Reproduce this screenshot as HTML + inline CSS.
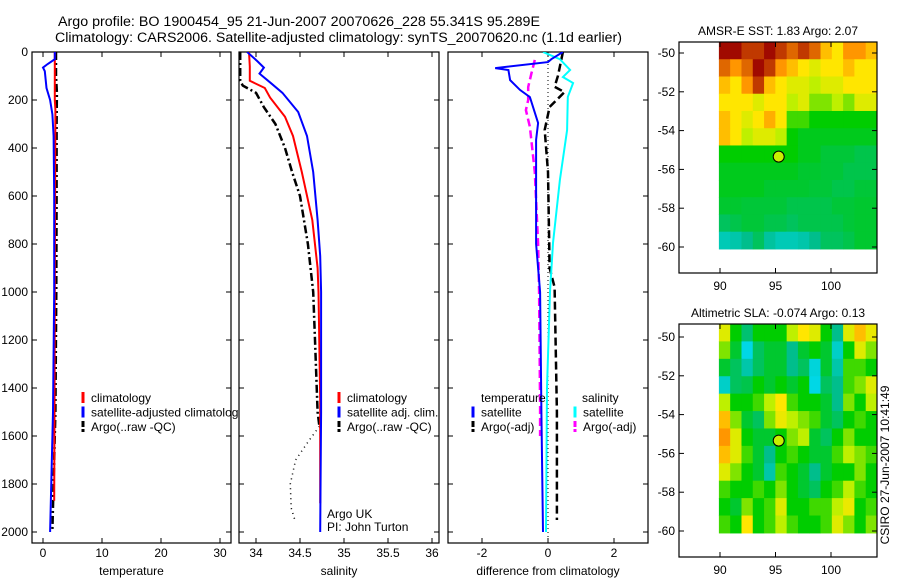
<!DOCTYPE html>
<html><head><meta charset="utf-8"><style>
body{margin:0;background:#fff}
svg{display:block;font-family:"Liberation Sans",sans-serif}
</style></head><body>
<svg id="c" width="900" height="580" viewBox="0 0 900 580" xmlns="http://www.w3.org/2000/svg">
<defs>
<clipPath id="cp1"><rect x="32" y="52" width="199" height="491"/></clipPath>
<clipPath id="cp1t"><rect x="32" y="52" width="207" height="491"/></clipPath>
<clipPath id="cp2"><rect x="239" y="52" width="200" height="491"/></clipPath>
<clipPath id="cp3"><rect x="448" y="52" width="200" height="491"/></clipPath>
</defs>
<g id="root"></g>
</svg>
<script>
// ---- profile data ----
const tDepthBlue=[0,30,50,65,80,150,200,260,350,600,1000,1500,2000];
const tBlue=[2.0,2.0,0.8,0.0,0.3,0.6,1.2,1.6,1.8,1.9,1.9,1.7,1.2];
const tDepthRed=[0,50,200,240,600,1000,1500,1870];
const tRed=[2.0,2.0,2.0,2.1,2.05,2.0,1.95,1.9];
const tDepthArgo=[0,100,170,300,600,1000,1500,1990];
const tArgo=[2.2,2.2,2.35,2.3,2.3,2.25,2.1,1.6];

const sDepthBlue=[0,40,65,90,130,170,250,350,500,700,850,1000,1500,2000];
const sBlue=[33.9,34.02,34.09,34.04,34.17,34.3,34.48,34.58,34.65,34.7,34.73,34.74,34.74,34.73];
const sDepthRed=[0,60,120,150,190,270,350,500,700,900,1000,1450,1880];
const sRed=[33.92,33.93,33.93,34.1,34.16,34.33,34.42,34.52,34.64,34.7,34.71,34.73,34.73];
const sDepthArgo=[0,120,140,170,230,300,400,500,600,800,1000,1200,1500,1560];
const sArgo=[33.82,33.82,33.85,34.0,34.09,34.22,34.33,34.41,34.5,34.59,34.65,34.67,34.7,34.72];
const sDepthArgoDeep=[1560,1620,1700,1800,1900,1960];
const sArgoDeep=[34.72,34.6,34.45,34.39,34.4,34.45];

const dDepthTsat=[0,30,42,67,75,117,158,188,296,366,800,1000,1500,2000];
const dTsat=[0.45,0.1,0.0,-1.6,-1.2,-1.15,-0.85,-0.55,-0.3,-0.36,-0.36,-0.24,-0.2,-0.15];
const dDepthSsat=[0,30,75,104,129,187,325,533,796,1000,1400,2000];
const dSsat=[-0.15,0.36,0.67,0.45,0.76,0.6,0.58,0.36,0.15,0.06,-0.03,-0.06];
const dDepthTargo=[0,100,145,167,229,325,500,900,980,1500,1950];
const dTargo=[0.45,0.3,0.2,0.5,0.05,-0.1,0.0,0.05,0.2,0.27,0.27];
const dDepthSargo=[33,88,146,200,242,312,500,800,1000,1480,1600];
const dSargo=[-0.4,-0.5,-0.6,-0.6,-0.67,-0.55,-0.4,-0.3,-0.27,-0.24,-0.24];

const depthTicks=[0,200,400,600,800,1000,1200,1400,1600,1800,2000];
const tTicks=[0,10,20,30];
const sTicks=[34,34.5,35,35.5,36];
const dTicks=[-2,0,2];
const latTicks=[-50,-52,-54,-56,-58,-60];
const lonTicks=[90,95,100];

// ---- map grids (rows from -49.4 downward, cols from 90E) ----
const sstGrid=[
[1,1,.95,.95,1,.95,.9,.95,.9,.8,.75,.85,.85,.8],
[.9,.85,.9,1,.95,.85,.8,.75,.7,.75,.75,.8,.75,.75],
[.8,.75,.85,.95,.8,.75,.7,.7,.65,.7,.7,.75,.75,.75],
[.75,.75,.75,.7,.75,.75,.65,.7,.6,.6,.65,.6,.7,.7],
[.8,.75,.7,.75,.82,.75,.55,.55,.5,.5,.5,.5,.5,.5],
[.8,.75,.65,.7,.7,.65,.5,.47,.47,.47,.47,.47,.47,.47],
[.5,.5,.5,.5,.5,.5,.5,.47,.47,.44,.44,.44,.42,.42],
[.47,.47,.47,.47,.47,.47,.47,.45,.45,.44,.44,.42,.42,.42],
[.47,.47,.47,.47,.45,.45,.45,.45,.44,.44,.42,.42,.44,.44],
[.45,.45,.44,.44,.44,.44,.42,.42,.42,.42,.44,.44,.45,.45],
[.4,.42,.44,.44,.42,.42,.4,.42,.42,.42,.42,.44,.45,.45],
[.28,.3,.35,.4,.32,.28,.28,.3,.35,.4,.4,.42,.45,.45]];
const slaGrid=[
[.7,.5,.38,.5,.5,.5,.65,.75,.7,.5,.35,.7,.8,.72],
[.6,.45,.2,.4,.45,.45,.35,.45,.5,.45,.25,.5,.7,.6],
[.45,.4,.3,.4,.45,.45,.35,.4,.22,.45,.3,.55,.55,.5],
[.25,.4,.42,.5,.45,.5,.45,.5,.2,.4,.35,.55,.6,.7],
[.65,.5,.5,.55,.65,.75,.55,.5,.5,.45,.35,.6,.5,.65],
[.8,.6,.45,.4,.6,.72,.65,.6,.55,.45,.4,.5,.55,.5],
[.85,.7,.5,.45,.45,.5,.6,.65,.45,.4,.5,.6,.5,.5],
[.8,.7,.55,.45,.35,.5,.55,.5,.45,.45,.55,.65,.6,.55],
[.7,.6,.5,.45,.3,.55,.5,.45,.35,.45,.5,.5,.6,.5],
[.55,.5,.5,.55,.5,.6,.5,.45,.4,.5,.55,.65,.55,.5],
[.5,.45,.6,.5,.55,.7,.5,.5,.55,.55,.65,.72,.5,.55],
[.55,.5,.75,.5,.55,.65,.55,.5,.5,.55,.7,.6,.5,.6]];
const argoLon=95.289, argoLat=-55.341;

const NS="http://www.w3.org/2000/svg";
const root=document.getElementById('root');
function el(tag,attrs,parent){const e=document.createElementNS(NS,tag);for(const k in attrs)e.setAttribute(k,attrs[k]);(parent||root).appendChild(e);return e;}
function txt(x,y,s,anchor,size,parent){const t=el('text',{x:x,y:y,'text-anchor':anchor||'start','font-size':size||12,fill:'#000'},parent);t.textContent=s;return t;}

const yD=d=>52+d*0.24;
const xT=v=>43+v*5.9;
const xS=s=>256+(s-34)*88;
const xDf=v=>548+v*33;

function line(xs,ds,xf,color,w,dash,clip,name){
  const pts=xs.map((v,i)=>xf(v).toFixed(1)+','+yD(ds[i]).toFixed(1)).join(' ');
  const p=el('polyline',{points:pts,fill:'none',stroke:color,'stroke-width':w,'clip-path':'url(#'+clip+')'});
  if(dash)p.setAttribute('stroke-dasharray',dash);
  
  
}
function panel(x0,w,xTicks,xf,fmt,xlabel,name,leftLabels){
  const g=el('g',{});
  
  
  el('rect',{x:x0,y:52,width:w,height:491,fill:'#fff',stroke:'#000','stroke-width':1.2},g);
  depthTicks.forEach(d=>{
    const y=yD(d);
    el('line',{x1:x0,y1:y,x2:x0+5,y2:y,stroke:'#000'},g);
    el('line',{x1:x0+w-5,y1:y,x2:x0+w,y2:y,stroke:'#000'},g);
    if(leftLabels){const t=txt(28,y+4,String(d),'end',12,g);}
  });
  xTicks.forEach(v=>{
    const x=xf(v);
    el('line',{x1:x,y1:543,x2:x,y2:538,stroke:'#000'},g);
    el('line',{x1:x,y1:52,x2:x,y2:57,stroke:'#000'},g);
    const t=txt(x,557,fmt(v),'middle',12,g);
    
  });
  const xl=txt(x0+w/2,575,xlabel,'middle',12,g);
  
}

// titles
let t=txt(299,26,'Argo profile: BO 1900454_95 21-Jun-2007 20070626_228 55.341S 95.289E','middle',13.5);
t.setAttribute('textLength','482');t.setAttribute('lengthAdjust','spacingAndGlyphs');

t=txt(338.5,42,'Climatology: CARS2006. Satellite-adjusted climatology: synTS_20070620.nc (1.1d earlier)','middle',13.5);
t.setAttribute('textLength','567');t.setAttribute('lengthAdjust','spacingAndGlyphs');


// panel 1 temperature
panel(32,199,tTicks,xT,v=>String(v),'temperature','temperature-panel',true);
line(tArgo,tDepthArgo,xT,'#000',2.5,'8,3,2,3','cp1','temp-argo-line');
line(tRed,tDepthRed,xT,'#f00',2,null,'cp1','temp-climatology-line');
line(tBlue,tDepthBlue,xT,'#00f',2,null,'cp1','temp-satellite-line');
function legend(x,y,items,clip){
  items.forEach((it,i)=>{
    const yy=y+i*14.5;
    const m=el('line',{x1:x,y1:yy-10,x2:x,y2:yy+1,stroke:it[1],'stroke-width':3});
    if(it[2])m.setAttribute('stroke-dasharray',it[2]);
    
    const tt=txt(x+8,yy,it[0],'start',12);
    if(clip)tt.setAttribute('clip-path','url(#'+clip+')');
    
  });
}
legend(83,402,[['climatology','#f00'],['satellite-adjusted climatology','#00f'],['Argo(..raw -QC)','#000','6,2']],'cp1t');

// panel 2 salinity
panel(239,200,sTicks,xS,v=>String(v),'salinity','salinity-panel',false);
line(sArgo,sDepthArgo,xS,'#000',2.5,'8,3,2,3','cp2','sal-argo-line');
line(sArgoDeep,sDepthArgoDeep,xS,'#000',1.5,'1,4','cp2','sal-argo-deep-line');
line(sRed,sDepthRed,xS,'#f00',2,null,'cp2','sal-climatology-line');
line(sBlue,sDepthBlue,xS,'#00f',2,null,'cp2','sal-satellite-line');
legend(339,402,[['climatology','#f00'],['satellite adj. clim.','#00f'],['Argo(..raw -QC)','#000','6,2']],'cp2');
t=txt(327,518,'Argo UK','start',12);
t=txt(327,531,'PI: John Turton','start',12);

// panel 3 differences
panel(448,200,dTicks,xDf,v=>String(v),'difference from climatology','difference-panel',false);
el('line',{x1:xDf(0),y1:52,x2:xDf(0),y2:543,stroke:'#000','stroke-dasharray':'1,3'});
line(dTargo,dDepthTargo,xDf,'#000',2.5,'8,4','cp3','diff-temp-argo-line');
line(dSargo,dDepthSargo,xDf,'#f0f',2.5,'8,4','cp3','diff-sal-argo-line');
line(dSsat,dDepthSsat,xDf,'#0ff',2,null,'cp3','diff-sal-satellite-line');
line(dTsat,dDepthTsat,xDf,'#00f',2,null,'cp3','diff-temp-satellite-line');
t=txt(481,402,'temperature','start',12);
t=txt(582,402,'salinity','start',12);
legend(473,416.5,[['satellite','#00f'],['Argo(-adj)','#000','6,2']]);
legend(575,416.5,[['satellite','#0ff'],['Argo(-adj)','#f0f','6,2']]);

// ---- maps ----
const stops=[[0,[0,90,255]],[0.2,[0,215,230]],[0.35,[0,190,140]],[0.5,[0,205,0]],[0.65,[190,240,0]],[0.75,[255,230,0]],[0.85,[255,150,0]],[1,[160,10,0]]];
function cmap(v){
  for(let i=1;i<stops.length;i++){if(v<=stops[i][0]){const a=stops[i-1],b=stops[i];const f=(v-a[0])/(b[0]-a[0]);
    const c=a[1].map((x,k)=>Math.round(x+(b[1][k]-x)*f));return 'rgb('+c.join(',')+')';}}
  return 'rgb(160,10,0)';
}
function map(top,bottom,lat50,grid,title,name){
  const g=el('g',{});
  
  
  const x0=679,w=198,h=bottom-top;
  const yL=lat=>lat50+(-50-lat)*19.4;
  const xL=lon=>720+(lon-90)*11.1;
  el('rect',{x:x0,y:top,width:w,height:h,fill:'#fff'},g);
  const rows=grid.length,cols=grid[0].length;
  const yTop=top, yBot=yL(-60.1), xLeft=xL(89.9), xRight=x0+w;
  const ch=(yBot-yTop)/rows, cw=(xRight-xLeft)/cols;
  grid.forEach((row,r)=>row.forEach((v,c)=>{
    const cell=el('rect',{x:(xLeft+c*cw).toFixed(2),y:(yTop+r*ch).toFixed(2),width:(cw+0.5).toFixed(2),height:(ch+0.5).toFixed(2),fill:cmap(v)},g);
    
    
  }));
  el('rect',{x:x0,y:top,width:w,height:h,fill:'none',stroke:'#000','stroke-width':1.2},g);
  latTicks.forEach(l=>{const y=yL(l);el('line',{x1:x0,y1:y,x2:x0+5,y2:y,stroke:'#000'},g);el('line',{x1:x0+w-5,y1:y,x2:x0+w,y2:y,stroke:'#000'},g);
    const tt=txt(675,y+4,String(l),'end',12,g);});
  lonTicks.forEach(l=>{const x=xL(l);el('line',{x1:x,y1:bottom,x2:x,y2:bottom-5,stroke:'#000'},g);el('line',{x1:x,y1:top,x2:x,y2:top+5,stroke:'#000'},g);
    const tt=txt(x,bottom+17,String(l),'middle',12,g);});
  const tt=txt(x0+w/2,top-7,title,'middle',12,g);
  const cc=el('circle',{cx:xL(argoLon),cy:yL(argoLat),r:5.5,fill:'#c8f000',stroke:'#000','stroke-width':1},g);
  
}
map(42,273,53,sstGrid,'AMSR-E SST: 1.83 Argo: 2.07','sst-map');
map(324,557,337,slaGrid,'Altimetric SLA: -0.074 Argo: 0.13','sla-map');
t=txt(0,0,'CSIRO 27-Jun-2007 10:41:49','middle',12);
t.setAttribute('transform','translate(889,465) rotate(-90)');

</script>
</body></html>
